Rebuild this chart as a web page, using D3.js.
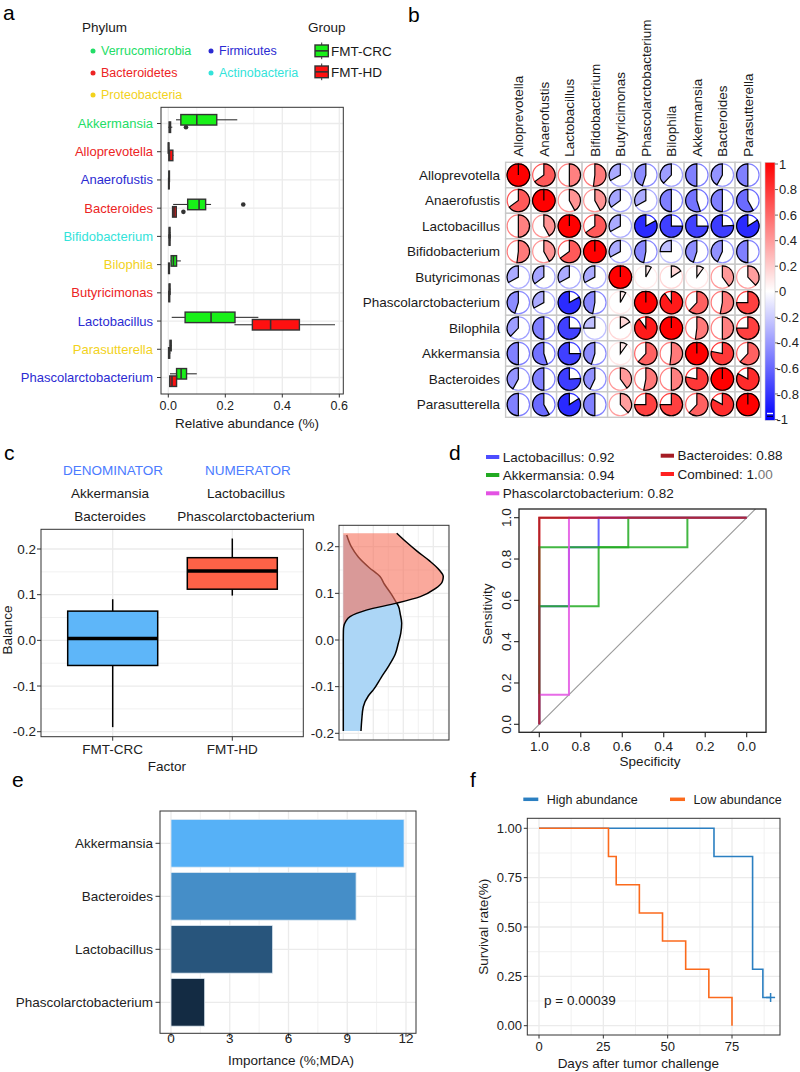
<!DOCTYPE html>
<html>
<head>
<meta charset="utf-8">
<script src="https://cdnjs.cloudflare.com/ajax/libs/d3/7.8.5/d3.min.js"></script>
<style>
html,body{margin:0;padding:0;background:#fff;}
svg{display:block;}
text{font-family:"Liberation Sans",Arial,Helvetica,sans-serif;}
</style>
</head>
<body>
<svg id="fig" width="800" height="1072" xmlns="http://www.w3.org/2000/svg"></svg>
<script>
// ================= DATA =================
// Panel a
const genera = ["Akkermansia","Alloprevotella","Anaerofustis","Bacteroides","Bifidobacterium","Bilophila","Butyricimonas","Lactobacillus","Parasutterella","Phascolarctobacterium"];
const generaPhylum = ["Verrucomicrobia","Bacteroidetes","Firmicutes","Bacteroidetes","Actinobacteria","Proteobacteria","Bacteroidetes","Firmicutes","Proteobacteria","Firmicutes"];
const phyla = ["Verrucomicrobia","Firmicutes","Bacteroidetes","Actinobacteria","Proteobacteria"];
const groups = ["FMT-CRC","FMT-HD"];
// [min, q1, median, q3, max]
const crcStats = [
  [0.027,0.044,0.100,0.170,0.242],
  [0.000,0.000,0.001,0.002,0.004],
  [0.001,0.002,0.003,0.004,0.006],
  [0.017,0.068,0.108,0.131,0.150],
  [0.002,0.003,0.004,0.006,0.008],
  [0.008,0.010,0.018,0.029,0.044],
  [0.002,0.003,0.004,0.006,0.008],
  [0.012,0.059,0.150,0.234,0.316],
  [0.005,0.006,0.008,0.010,0.012],
  [0.006,0.029,0.045,0.064,0.100]
];
const hdStats = [
  [0.000,0.003,0.005,0.008,0.014],
  [0.001,0.002,0.004,0.016,0.018],
  [0.000,0.001,0.002,0.003,0.004],
  [0.013,0.015,0.020,0.028,0.030],
  [0.002,0.003,0.004,0.006,0.007],
  [0.000,0.001,0.002,0.004,0.006],
  [0.001,0.002,0.003,0.005,0.006],
  [0.232,0.295,0.359,0.460,0.585],
  [0.000,0.001,0.003,0.005,0.008],
  [0.004,0.005,0.013,0.029,0.030]
];
const crcOutliers = [[],[],[],[0.263],[],[],[],[],[],[]];
const hdOutliers  = [[0.062],[],[],[0.053],[],[],[],[],[],[]];
const abundanceTicks = [0,0.2,0.4,0.6];

// Panel b
const corrNames = ["Alloprevotella","Anaerofustis","Lactobacillus","Bifidobacterium","Butyricimonas","Phascolarctobacterium","Bilophila","Akkermansia","Bacteroides","Parasutterella"];
const corrMatrix = [
  [ 1.00, 0.65, 0.50, 0.52,-0.33,-0.45,-0.38,-0.50,-0.42,-0.50],
  [ 0.65, 1.00, 0.42, 0.42,-0.35,-0.33,-0.50,-0.55,-0.50,-0.58],
  [ 0.50, 0.42, 1.00, 0.65,-0.33,-0.83,-0.75,-0.75,-0.76,-0.84],
  [ 0.52, 0.42, 0.65, 1.00,-0.33,-0.47,-0.25,-0.45,-0.43,-0.50],
  [-0.33,-0.35,-0.33,-0.33, 1.00, 0.08, 0.16, 0.10, 0.40, 0.38],
  [-0.45,-0.33,-0.83,-0.47, 0.08, 1.00, 0.90, 0.62, 0.53, 0.75],
  [-0.38,-0.50,-0.75,-0.25, 0.16, 0.90, 1.00, 0.52, 0.50, 0.75],
  [-0.50,-0.55,-0.75,-0.45, 0.10, 0.62, 0.52, 1.00, 0.78, 0.62],
  [-0.42,-0.50,-0.76,-0.43, 0.40, 0.53, 0.50, 0.78, 1.00, 0.83],
  [-0.50,-0.58,-0.84,-0.50, 0.38, 0.75, 0.75, 0.62, 0.83, 1.00]
];
const corrTicks = [1,0.8,0.6,0.4,0.2,0,-0.2,-0.4,-0.6,-0.8,-1];

// Panel c
const denominator = ["Akkermansia","Bacteroides"];
const numerator = ["Lactobacillus","Phascolarctobacterium"];
const balanceGroups = ["FMT-CRC","FMT-HD"];
const balanceStats = [[-0.19,-0.055,0.004,0.064,0.09],[0.098,0.112,0.152,0.181,0.223]];
const balanceTicks = [-0.2,-0.1,0,0.1,0.2];
const densCrcY = [-0.195,-0.17,-0.143,-0.12,-0.107,-0.08,-0.057,-0.03,-0.007,0.015,0.036,0.055,0.073,0.079,0.1,0.12,0.136,0.155,0.178,0.2,0.225];
const densCrcV = [1.77,1.85,2.0,2.5,3.0,3.8,4.5,5.2,5.5,5.75,5.84,5.7,5.5,5.34,4.75,4.1,3.67,2.6,1.5,0.8,0.34];
const densHdY = [-0.195,-0.1,0.0,0.02,0.029,0.04,0.05,0.064,0.079,0.093,0.11,0.125,0.136,0.15,0.17,0.19,0.21,0.229];
const densHdV = [0,0,0,0.01,0.05,0.25,0.67,2.3,5.34,7.7,9.2,9.9,10.0,9.6,8.6,7.4,6.3,5.34];

// Panel d  (points are [specificity, sensitivity])
const rocNames = ["Lactobacillus","Akkermansia","Phascolarctobacterium","Bacteroides","Combined"];
const rocAuc = ["0.92","0.94","0.82","0.88","1."];
const rocLacto = [[1,0],[1,0.571],[0.857,0.571],[0.857,0.857],[0.714,0.857],[0.714,1],[0,1]];
const rocAkkA = [[1,0],[1,0.857],[0.571,0.857],[0.571,1],[0,1]];
const rocAkkB = [[1,0.571],[0.714,0.571],[0.714,0.857],[0.286,0.857],[0.286,1]];
const rocPhasco = [[1,0],[1,0.143],[0.857,0.143],[0.857,1],[0,1]];
const rocBact = [[1,0],[1,0.571],[1,1],[0,1]];
const rocComb = [[1,0],[1,1],[0,1]];
const rocTicks = [0,0.2,0.4,0.6,0.8,1.0];

// Panel e
const mdaNames = ["Akkermansia","Bacteroides","Lactobacillus","Phascolarctobacterium"];
const mdaValues = [11.9, 9.45, 5.19, 1.72];
const mdaTicks = [0,3,6,9,12];

// Panel f
const survGroups = ["High abundance","Low abundance"];
const highTimes = [0,68,83,87,90];
const highSurv  = [1,0.857,0.286,0.143,0.143];
const lowTimes  = [0,27,30,39,48,57,66,75];
const lowSurv   = [1,0.857,0.714,0.571,0.429,0.286,0.143,0];
const highCensor = [[90,0.143]];
const survXTicks = [0,25,50,75];
const survYTicks = [0,0.25,0.5,0.75,1];

// ================= STYLE =================
const phylumColors = {"Verrucomicrobia":"#22dd66","Firmicutes":"#2b2bd2","Bacteroidetes":"#ec2424","Actinobacteria":"#33e3da","Proteobacteria":"#f2d21c"};
const groupFill = {"FMT-CRC":"#18f018","FMT-HD":"#ff1010"};
const GRID = "#ebebeb", BORDER = "#333333", TXT = "#1a1a1a";
const balanceFill = ["#5eb6f9","#fd6247"];
const rocColors = ["#4d4dff","#22aa22","#e352e3","#a51c24","#ff2020"];
const survColors = ["#2b7fc1","#fb6a1c"];

const svg = d3.select("#fig");
const defs = svg.append("defs");

function T(g, x, y, str, size, opt = {}) {
  const t = g.append("text").attr("x", x).attr("y", y).attr("font-size", size)
    .attr("dy", opt.dy !== undefined ? opt.dy : "0.35em")
    .attr("text-anchor", opt.anchor || "start")
    .attr("fill", opt.fill || TXT).text(str);
  if (opt.rotate) t.attr("transform", `rotate(${opt.rotate},${x},${y})`);
  return t;
}
function L(g, x1, y1, x2, y2, stroke, w) {
  return g.append("line").attr("x1", x1).attr("y1", y1).attr("x2", x2).attr("y2", y2)
    .attr("stroke", stroke).attr("stroke-width", w);
}
function clip(id, x, y, w, h) {
  defs.append("clipPath").attr("id", id).append("rect").attr("x", x).attr("y", y).attr("width", w).attr("height", h);
  return `url(#${id})`;
}

// Panel letters
[["a",3,20],["b",408,22],["c",4,460],["d",449,460],["e",12,787],["f",470,787]].forEach(([s,x,y]) => {
  svg.append("text").attr("x", x).attr("y", y).attr("font-size", 21).attr("fill", "#000").text(s);
});

// ================= PANEL A =================
{
  const g = svg.append("g");
  const pL = 161, pR = 343.3, pT = 107.3, pB = 394;
  const x = d3.scaleLinear().domain([0, 0.6]).range([168.3, 339.3]);
  const y = d3.scalePoint().domain(genera).range([123.5, 377.5]);
  g.append("rect").attr("x", pL).attr("y", pT).attr("width", pR - pL).attr("height", pB - pT).attr("fill", "#fff");
  [0.1, 0.3, 0.5].forEach(v => L(g, x(v), pT, x(v), pB, GRID, 0.7));
  abundanceTicks.forEach(v => L(g, x(v), pT, x(v), pB, GRID, 1.3));
  genera.forEach(n => L(g, pL, y(n), pR, y(n), GRID, 1.3));

  const bh = 10.5;
  function box(st, outl, yc, fill) {
    L(g, x(st[0]), yc, x(st[1]), yc, BORDER, 1.1);
    L(g, x(st[3]), yc, x(st[4]), yc, BORDER, 1.1);
    g.append("rect").attr("x", x(st[1])).attr("y", yc - bh / 2).attr("width", Math.max(x(st[3]) - x(st[1]), 0.5))
      .attr("height", bh).attr("fill", fill).attr("stroke", BORDER).attr("stroke-width", 1.4);
    L(g, x(st[2]), yc - bh / 2, x(st[2]), yc + bh / 2, BORDER, 1.6);
    outl.forEach(o => g.append("circle").attr("cx", x(o)).attr("cy", yc).attr("r", 2.3).attr("fill", BORDER));
  }
  genera.forEach((n, i) => box(crcStats[i], crcOutliers[i], y(n) - 3.7, groupFill["FMT-CRC"]));
  genera.forEach((n, i) => box(hdStats[i], hdOutliers[i], y(n) + 3.7, groupFill["FMT-HD"]));

  g.append("rect").attr("x", pL).attr("y", pT).attr("width", pR - pL).attr("height", pB - pT)
    .attr("fill", "none").attr("stroke", BORDER).attr("stroke-width", 1);
  genera.forEach((n, i) => {
    L(g, pL - 4, y(n), pL, y(n), BORDER, 1);
    T(g, 153, y(n), n, 13, { anchor: "end", fill: phylumColors[generaPhylum[i]] });
  });
  abundanceTicks.forEach(v => {
    L(g, x(v), pB, x(v), pB + 3.5, BORDER, 1);
    T(g, x(v), 405.5, v.toFixed(1), 12.5, { anchor: "middle", fill: "#222" });
  });
  T(g, 247, 423, "Relative abundance (%)", 13.5, { anchor: "middle" });

  // Legends
  T(g, 82, 27, "Phylum", 13.5);
  const legPos = [[93, 51], [211, 51], [93, 73], [211, 73], [93, 95]];
  phyla.forEach((p, i) => {
    const [lx, ly] = legPos[i];
    g.append("circle").attr("cx", lx).attr("cy", ly).attr("r", 2.5).attr("fill", phylumColors[p]);
    T(g, lx + 8, ly, p, 12.5, { fill: phylumColors[p] });
  });
  T(g, 308, 27, "Group", 13.5);
  groups.forEach((gr, i) => {
    const ky = 45 + i * 21;
    L(g, 321.7, ky - 2.5, 321.7, ky, BORDER, 1);
    L(g, 321.7, ky + 11.7, 321.7, ky + 14.2, BORDER, 1);
    g.append("rect").attr("x", 315).attr("y", ky).attr("width", 13.3).attr("height", 11.7)
      .attr("fill", groupFill[gr]).attr("stroke", BORDER).attr("stroke-width", 1.4);
    L(g, 315, ky + 5.85, 328.3, ky + 5.85, BORDER, 1.6);
    T(g, 331, ky + 6, gr, 13.5);
  });
}

// ================= PANEL B =================
{
  const g = svg.append("g");
  const bx = d3.scaleBand().domain(corrNames).range([505.6, 760.6]);
  const by = d3.scaleBand().domain(corrNames).range([162.3, 417.3]);
  const cw = bx.bandwidth();
  const ccol = v => v >= 0 ? d3.interpolateRgb("#ffffff", "#ff0000")(v) : d3.interpolateRgb("#ffffff", "#0000ff")(-v);
  const rad = 11.2;
  const arc = d3.arc().innerRadius(0).outerRadius(rad);
  corrNames.forEach((rn, i) => {
    corrNames.forEach((cn, j) => {
      g.append("rect").attr("x", bx(cn)).attr("y", by(rn)).attr("width", cw).attr("height", cw)
        .attr("fill", "#fff").attr("stroke", "#c9c9c9").attr("stroke-width", 1.4);
    });
  });
  corrNames.forEach((rn, i) => {
    corrNames.forEach((cn, j) => {
      const v = corrMatrix[i][j];
      const cx = bx(cn) + cw / 2, cy = by(rn) + cw / 2;
      const col = ccol(v);
      g.append("circle").attr("cx", cx).attr("cy", cy).attr("r", rad).attr("fill", "none")
        .attr("stroke", col).attr("stroke-width", 1.2);
      const ang = Math.abs(v) >= 0.999 ? Math.sign(v) * (2 * Math.PI - 0.0002) : v * 2 * Math.PI;
      const a = ang >= 0 ? { startAngle: 0, endAngle: ang } : { startAngle: ang, endAngle: 0 };
      g.append("path").attr("transform", `translate(${cx},${cy})`).attr("d", arc(a))
        .attr("fill", col).attr("stroke", "#000").attr("stroke-width", 1.2).attr("stroke-linejoin", "miter");
    });
  });
  corrNames.forEach(n => {
    T(g, 500, by(n) + cw / 2, n, 13.5, { anchor: "end" });
    const cx = bx(n) + cw / 2;
    T(g, cx, 156.7, n, 13.5, { rotate: -90 });
  });
  // colour bar
  const cbY = d3.scaleLinear().domain([1, -1]).range([164, 419.5]);
  const grad = defs.append("linearGradient").attr("id", "cbgrad").attr("x1", 0).attr("y1", 0).attr("x2", 0).attr("y2", 1);
  d3.range(0, 21).forEach(k => {
    const v = 1 - k * 0.1;
    grad.append("stop").attr("offset", (k / 20)).attr("stop-color", ccol(v));
  });
  g.append("rect").attr("x", 765).attr("y", 162.3).attr("width", 10).attr("height", 258)
    .attr("fill", "url(#cbgrad)").attr("stroke", "#cfcfcf").attr("stroke-width", 0.6);
  L(g, 767, 413.5, 773, 413.5, "#ffffff", 1.4);
  L(g, 767, 416.3, 773, 416.3, "#000033", 1.2);
  corrTicks.forEach(v => {
    L(g, 775, cbY(v), 778, cbY(v), "#444", 0.8);
    T(g, v < 0 ? 776.5 : 779, cbY(v), String(v), 13, { fill: "#222" });
  });
}

// ================= PANEL C =================
{
  const g = svg.append("g");
  // header
  T(g, 113, 470.7, "DENOMINATOR", 13.5, { anchor: "middle", fill: "#4b7bff" });
  T(g, 248, 470.7, "NUMERATOR", 13.5, { anchor: "middle", fill: "#4b7bff" });
  denominator.forEach((n, i) => T(g, 110, 493.3 + i * 23, n, 13.5, { anchor: "middle" }));
  numerator.forEach((n, i) => T(g, 246, 493.3 + i * 23, n, 13.5, { anchor: "middle" }));

  const pL = 41, pR = 303.3, pT = 529.3, pB = 736.7;
  const x = d3.scalePoint().domain(balanceGroups).range([112.7, 232.3]);
  const y = d3.scaleLinear().domain([-0.2, 0.2]).range([731.7, 549]);
  g.append("rect").attr("x", pL).attr("y", pT).attr("width", pR - pL).attr("height", pB - pT).attr("fill", "#fff");
  [-0.15, -0.05, 0.05, 0.15].forEach(v => L(g, pL, y(v), pR, y(v), GRID, 0.7));
  balanceTicks.forEach(v => L(g, pL, y(v), pR, y(v), GRID, 1.3));
  balanceGroups.forEach(n => L(g, x(n), pT, x(n), pB, GRID, 1.3));
  const bw = 90;
  balanceGroups.forEach((n, i) => {
    const s = balanceStats[i], cx = x(n);
    L(g, cx, y(s[0]), cx, y(s[1]), "#000", 1.5);
    L(g, cx, y(s[3]), cx, y(s[4]), "#000", 1.5);
    g.append("rect").attr("x", cx - bw / 2).attr("y", y(s[3])).attr("width", bw).attr("height", y(s[1]) - y(s[3]))
      .attr("fill", balanceFill[i]).attr("stroke", "#000").attr("stroke-width", 1.5);
    L(g, cx - bw / 2, y(s[2]), cx + bw / 2, y(s[2]), "#000", 3.5);
  });
  g.append("rect").attr("x", pL).attr("y", pT).attr("width", pR - pL).attr("height", pB - pT)
    .attr("fill", "none").attr("stroke", BORDER).attr("stroke-width", 1);
  balanceTicks.forEach(v => {
    L(g, pL - 4, y(v), pL, y(v), BORDER, 1);
    T(g, 36, y(v), v.toFixed(1), 13.5, { anchor: "end", fill: "#222" });
  });
  balanceGroups.forEach(n => {
    L(g, x(n), pB, x(n), pB + 4, BORDER, 1);
    T(g, x(n), 749, n, 13.5, { anchor: "middle", fill: "#222" });
  });
  T(g, 167, 766.7, "Factor", 13.5, { anchor: "middle" });
  T(g, 7.5, 630, "Balance", 13.5, { anchor: "middle", rotate: -90 });

  // density panel
  const dL = 339, dR = 449, dT = 525.3, dB = 740;
  const dy = d3.scaleLinear().domain([-0.2, 0.2]).range([733.3, 546.7]);
  const dx = d3.scaleLinear().domain([0, 10]).range([343.3, 443.3]);
  g.append("rect").attr("x", dL).attr("y", dT).attr("width", dR - dL).attr("height", dB - dT).attr("fill", "#fff");
  [1.5, 4.5, 7.5, 10.5].forEach(v => L(g, dx(v), dT, dx(v), dB, GRID, 0.7));
  [0, 3, 6, 9].forEach(v => L(g, dx(v), dT, dx(v), dB, GRID, 1.3));
  [-0.15, -0.05, 0.05, 0.15].forEach(v => L(g, dL, dy(v), dR, dy(v), GRID, 0.7));
  balanceTicks.forEach(v => L(g, dL, dy(v), dR, dy(v), GRID, 1.3));
  const cp = clip("dclip", dL, dT, dR - dL, dB - dT);
  const dg = g.append("g").attr("clip-path", cp);
  const crc = densCrcY.map((v, i) => [v, densCrcV[i]]);
  const hd = densHdY.map((v, i) => [v, densHdV[i]]);
  const area = d3.area().curve(d3.curveMonotoneY).y(d => dy(d[0])).x0(dx(0)).x1(d => dx(d[1]));
  const line = d3.line().curve(d3.curveMonotoneY).y(d => dy(d[0])).x(d => dx(d[1]));
  dg.append("path").attr("d", area(crc)).attr("fill", "#acd6f6");
  dg.append("path").attr("d", line(crc)).attr("fill", "none").attr("stroke", "#000").attr("stroke-width", 1.5);
  dg.append("path").attr("d", area(hd)).attr("fill", "#f6705a").attr("fill-opacity", 0.6);
  dg.append("path").attr("d", line(hd)).attr("fill", "none").attr("stroke", "#000").attr("stroke-width", 1.5);
  g.append("rect").attr("x", dL).attr("y", dT).attr("width", dR - dL).attr("height", dB - dT)
    .attr("fill", "none").attr("stroke", BORDER).attr("stroke-width", 1);
  balanceTicks.forEach(v => {
    L(g, dL - 4, dy(v), dL, dy(v), BORDER, 1);
    T(g, 334, dy(v), v.toFixed(1), 13.5, { anchor: "end", fill: "#222" });
  });
}

// ================= PANEL D =================
{
  const g = svg.append("g");
  const pL = 519, pR = 766, pT = 509, pB = 732.3;
  const x = d3.scaleLinear().domain([1, 0]).range([539.3, 746.7]);
  const y = d3.scaleLinear().domain([0, 1]).range([724.3, 517.7]);
  const cp = clip("rocclip", pL, pT, pR - pL, pB - pT);
  const pg = g.append("g").attr("clip-path", cp);
  pg.append("line").attr("x1", x(1.2)).attr("y1", y(-0.2)).attr("x2", x(-0.2)).attr("y2", y(1.2))
    .attr("stroke", "#9a9a9a").attr("stroke-width", 1.1);
  const ln = d3.line().x(d => x(d[0])).y(d => y(d[1]));
  const paths = [[rocComb, 4], [rocLacto, 0], [rocAkkA, 1], [rocAkkB, 1], [rocPhasco, 2], [rocBact, 3]];
  paths.forEach(([pts, ci]) => {
    pg.append("path").attr("d", ln(pts)).attr("fill", "none").attr("stroke", rocColors[ci])
      .attr("stroke-width", 2).attr("stroke-opacity", 0.85);
  });
  g.append("rect").attr("x", pL).attr("y", pT).attr("width", pR - pL).attr("height", pB - pT)
    .attr("fill", "none").attr("stroke", "#222").attr("stroke-width", 1.3);
  rocTicks.forEach(v => {
    L(g, x(v), pB, x(v), pB + 5, "#222", 1.1);
    T(g, x(v), 746, v.toFixed(1), 13.5, { anchor: "middle", fill: "#222" });
    L(g, pL - 5, y(v), pL, y(v), "#222", 1.1);
    T(g, 506, y(v), v.toFixed(1), 13.5, { anchor: "middle", fill: "#222", rotate: -90 });
  });
  T(g, 650, 761, "Specificity", 13.5, { anchor: "middle" });
  T(g, 487.3, 614, "Sensitivity", 13.5, { anchor: "middle", rotate: -90 });
  // legend
  const legXY = [[486, 457], [486, 475], [486, 493.3], [660.7, 455.7], [660.7, 474]];
  rocNames.forEach((n, i) => {
    const [lx, ly] = legXY[i];
    L(g, lx, ly, lx + 13.3, ly, rocColors[i], 4);
    const t = T(g, lx + 16.7, ly, n + ": " + rocAuc[i], 13.5);
    if (n === "Combined") t.append("tspan").attr("fill", "#777").text("00");
  });
}

// ================= PANEL E =================
{
  const g = svg.append("g");
  const pL = 160, pR = 416, pT = 811, pB = 1033.3;
  const x = d3.scaleLinear().domain([0, 12]).range([171, 406]);
  const y = d3.scalePoint().domain(mdaNames).range([843.3, 1002.3]);
  const step = y.step(), bh = step * 0.9;
  const col = d3.scaleLinear().domain([d3.min(mdaValues), d3.max(mdaValues)]).range(["#132B43", "#56B1F7"]).interpolate(d3.interpolateLab);
  g.append("rect").attr("x", pL).attr("y", pT).attr("width", pR - pL).attr("height", pB - pT).attr("fill", "#fff");
  [1.5, 4.5, 7.5, 10.5].forEach(v => L(g, x(v), pT, x(v), pB, GRID, 0.7));
  mdaTicks.forEach(v => L(g, x(v), pT, x(v), pB, GRID, 1.3));
  mdaNames.forEach(n => L(g, pL, y(n), pR, y(n), GRID, 1.3));
  mdaNames.forEach((n, i) => {
    g.append("rect").attr("x", x(0)).attr("y", y(n) - bh / 2).attr("width", x(mdaValues[i]) - x(0)).attr("height", bh)
      .attr("fill", col(mdaValues[i])).attr("stroke", "#dfe9f2").attr("stroke-width", 0.8);
  });
  g.append("rect").attr("x", pL).attr("y", pT).attr("width", pR - pL).attr("height", pB - pT)
    .attr("fill", "none").attr("stroke", BORDER).attr("stroke-width", 1);
  mdaNames.forEach(n => {
    L(g, pL - 4.5, y(n), pL, y(n), BORDER, 1);
    T(g, 153, y(n), n, 13.5, { anchor: "end", fill: "#222" });
  });
  mdaTicks.forEach(v => {
    L(g, x(v), pB, x(v), pB + 3.5, BORDER, 1);
    T(g, x(v), 1036.7 + 2, String(v), 13.5, { anchor: "middle", fill: "#222" });
  });
  T(g, 291, 1060.5, "Importance (%;MDA)", 13.5, { anchor: "middle" });
}

// ================= PANEL F =================
{
  const g = svg.append("g");
  const pL = 527.3, pR = 780, pT = 818.3, pB = 1035;
  const x = d3.scaleLinear().domain([0, 75]).range([539, 732]);
  const y = d3.scaleLinear().domain([0, 1]).range([1025.7, 828.3]);
  g.append("rect").attr("x", pL).attr("y", pT).attr("width", pR - pL).attr("height", pB - pT).attr("fill", "#fff");
  [12.5, 37.5, 62.5, 87.5].forEach(v => L(g, x(v), pT, x(v), pB, GRID, 0.7));
  survXTicks.forEach(v => L(g, x(v), pT, x(v), pB, GRID, 1.3));
  [0.125, 0.375, 0.625, 0.875].forEach(v => L(g, pL, y(v), pR, y(v), GRID, 0.7));
  survYTicks.forEach(v => L(g, pL, y(v), pR, y(v), GRID, 1.3));
  const st = d3.line().curve(d3.curveStepAfter).x(d => x(d[0])).y(d => y(d[1]));
  const high = highTimes.map((t, i) => [t, highSurv[i]]);
  const low = lowTimes.map((t, i) => [t, lowSurv[i]]);
  g.append("path").attr("d", st(high)).attr("fill", "none").attr("stroke", survColors[0]).attr("stroke-width", 1.6);
  highCensor.forEach(([t, s]) => {
    L(g, x(t) - 4.5, y(s), x(t) + 4.5, y(s), survColors[0], 1.5);
    L(g, x(t), y(s) - 4.5, x(t), y(s) + 4.5, survColors[0], 1.5);
  });
  g.append("path").attr("d", st(low)).attr("fill", "none").attr("stroke", survColors[1]).attr("stroke-width", 1.6);
  g.append("rect").attr("x", pL).attr("y", pT).attr("width", pR - pL).attr("height", pB - pT)
    .attr("fill", "none").attr("stroke", BORDER).attr("stroke-width", 1);
  survYTicks.forEach(v => {
    L(g, pL - 3.5, y(v), pL, y(v), BORDER, 1);
    T(g, 522, y(v), v.toFixed(2), 13, { anchor: "end", fill: "#222" });
  });
  survXTicks.forEach(v => {
    L(g, x(v), pB, x(v), pB + 3.5, BORDER, 1);
    T(g, x(v), 1046.7, String(v), 13, { anchor: "middle", fill: "#222" });
  });
  T(g, 638.3, 1063.3, "Days after tumor challenge", 13.5, { anchor: "middle" });
  T(g, 483.3, 926.7, "Survival rate(%)", 13.5, { anchor: "middle", rotate: -90 });
  T(g, 544, 1000, "p = 0.00039", 13.5);
  const legX = [523.3, 670];
  survGroups.forEach((n, i) => {
    L(g, legX[i], 799.3, legX[i] + 15, 799.3, survColors[i], 3.5);
    T(g, legX[i] + 23.4, 799.3, n, 12.5);
  });
}
</script>
</body>
</html>
